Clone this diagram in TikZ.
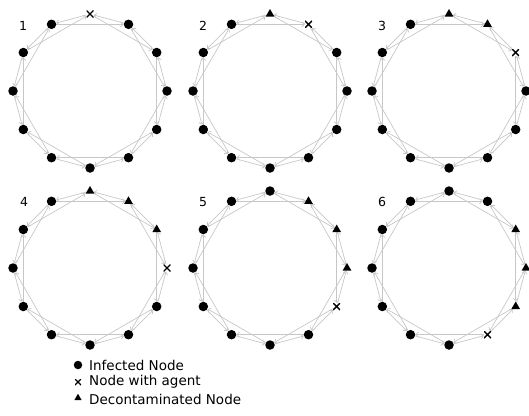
\documentclass[tikz,border=0pt]{standalone}
\usepackage{fontspec}
\setmainfont{DejaVu Sans}
\usetikzlibrary{arrows.meta,shapes.geometric}
\pgfdeclarelayer{background}
\pgfsetlayers{background,main}
\tikzset{
 inf/.style={circle,fill=black,minimum size=9.5pt,inner sep=0pt},
 dec/.style={regular polygon,regular polygon sides=3,fill=black,minimum size=10pt,inner sep=0pt},
 agt/.style={minimum size=7pt,inner sep=0pt,path picture={\draw[line width=1.4pt] (path picture bounding box.south west)--(path picture bounding box.north east) (path picture bounding box.north west)--(path picture bounding box.south east);}},
 edge/.style={draw=black!22,line width=0.7pt,-{Straight Barb[length=2.5pt,width=5pt]}},
 lab/.style={font=\fontsize{12.5}{14}\selectfont,inner sep=0pt},
 leg/.style={font=\fontsize{13.5}{15}\selectfont,inner sep=0pt,anchor=west}
}
\newcommand\drawring[4]{%
 \foreach \t [count=\i from 0] in {#4} {
   \node[style=\t] (#1n\i) at ({#2+77*cos(90+30*\i)},{#3-77*sin(90+30*\i)}) {};
 }
 \begin{pgfonlayer}{background}
 \foreach \i in {0,...,11} {
   \pgfmathtruncatemacro\j{mod(\i+1,12)}
   \pgfmathtruncatemacro\k{mod(\i+2,12)}
   \draw[edge] (#1n\i) -- (#1n\j);
   \draw[edge] (#1n\k) -- (#1n\i);
 }
 \end{pgfonlayer}
}
\begin{document}
\begin{tikzpicture}[x=1pt,y=-1pt]
\useasboundingbox (0,0) rectangle (529,415);
\drawring{a}{90}{91}{agt,inf,inf,inf,inf,inf,inf,inf,inf,inf,inf,inf}
\drawring{b}{270}{91}{dec,inf,inf,inf,inf,inf,inf,inf,inf,inf,inf,agt}
\drawring{c}{449}{91}{dec,inf,inf,inf,inf,inf,inf,inf,inf,inf,agt,dec}
\drawring{d}{90}{268}{dec,inf,inf,inf,inf,inf,inf,inf,inf,agt,dec,dec}
\drawring{e}{270}{268}{inf,inf,inf,inf,inf,inf,inf,inf,agt,dec,dec,dec}
\drawring{f}{449}{268}{inf,inf,inf,inf,inf,inf,inf,agt,dec,dec,dec,inf}
\node[lab] (t1) at (23,26) {1};
\node[lab] (t2) at (203,26) {2};
\node[lab] (t3) at (382,26) {3};
\node[lab] (t4) at (24,202) {4};
\node[lab] (t5) at (203,202) {5};
\node[lab] (t6) at (382,202) {6};
\node[inf,minimum size=8.5pt] (m1) at (78,365) {};
\node[leg] (l1) at (89,365) {Infected Node};
\node[agt,minimum size=6pt] (m2) at (78,382) {};
\node[leg] (l2) at (89,382) {Node with agent};
\node[dec,minimum size=8.5pt] (m3) at (78,398) {};
\node[leg] (l3) at (89,399) {Decontaminated Node};
\end{tikzpicture}
\end{document}
